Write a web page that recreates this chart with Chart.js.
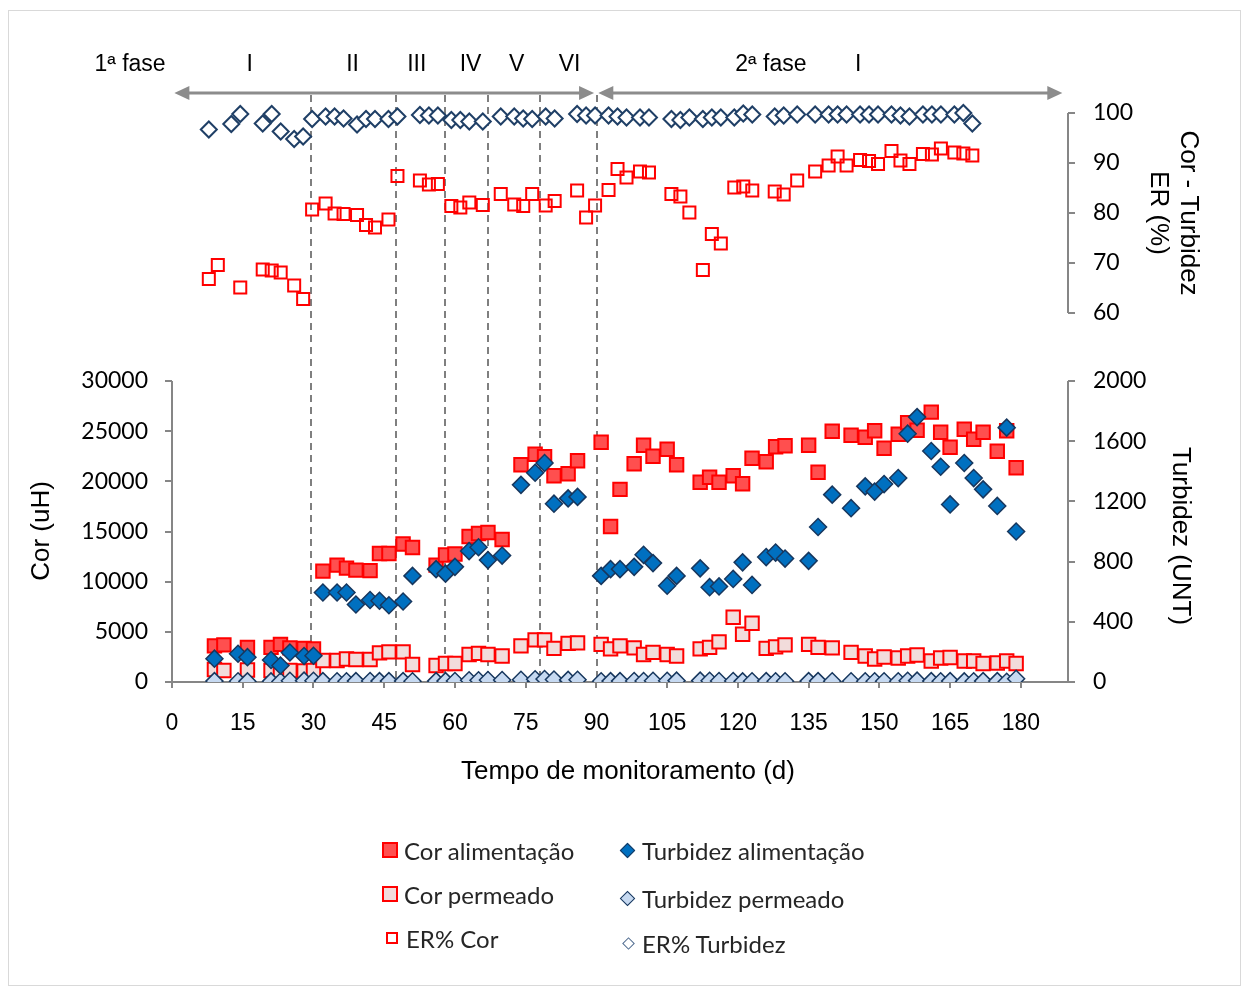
<!DOCTYPE html>
<html lang="pt">
<head>
<meta charset="utf-8">
<title>Cor e turbidez - monitoramento</title>
<script src="https://cdn.jsdelivr.net/npm/chart.js@4.4.1/dist/chart.umd.min.js"></script>
<style>
  html, body { margin: 0; padding: 0; background: #fff; }
  #wrap { position: relative; width: 1243px; height: 989px; }
  #frame { position: absolute; left: 8px; top: 10px; width: 1231px; height: 974px; border: 1px solid #d9d9d9; }
  #grafico { position: absolute; left: 0; top: 0; }
  .leg { position: absolute; display: flex; align-items: center; height: 26px;
         font-family: Lato, "Open Sans", sans-serif; font-size: 24px; color: #262626; white-space: nowrap; }
  .mk { display: inline-block; flex: none; }
</style>
</head>
<body>
<div id="wrap">
  <div id="frame"></div>
  <canvas id="grafico" width="1243" height="989"></canvas>

  <div class="leg" style="left:382px; top:837px;"><span class="mk" style="width:12px;height:12px;border:2px solid #ff0000;background:#ff4f4f;margin-right:6px;"></span>Cor alimentação</div>
  <div class="leg" style="left:382px; top:881px;"><span class="mk" style="width:12px;height:12px;border:2px solid #ff0000;background:#f2dcdb;margin-right:6px;"></span>Cor permeado</div>
  <div class="leg" style="left:386px; top:925px;"><span class="mk" style="width:8px;height:8px;border:2px solid #ff0000;background:#fff;margin-right:8px;"></span>ER% Cor</div>

  <div class="leg" style="left:622px; top:837px;"><span class="mk" style="width:9px;height:9px;border:1.5px solid #17375e;background:#0070c0;transform:rotate(45deg);margin-right:9px;"></span>Turbidez alimentação</div>
  <div class="leg" style="left:622px; top:885px;"><span class="mk" style="width:9px;height:9px;border:1.5px solid #17375e;background:#c6d9f1;transform:rotate(45deg);margin-right:9px;"></span>Turbidez permeado</div>
  <div class="leg" style="left:624px; top:930px;"><span class="mk" style="width:7px;height:7px;border:1.5px solid #4f6b8f;background:#fff;transform:rotate(45deg);margin-right:9px;"></span>ER% Turbidez</div>
</div>

<script>
// Dias de amostragem (a série de cor tem o dia 11, a de turbidez o dia 14)
const diasCor = [9, 11, 16, 21, 23, 25, 28, 30,
  32, 35, 37, 39, 42, 44, 46, 49, 51, 56, 58, 60, 63, 65, 67, 70, 74, 77, 79, 81, 84, 86,
  91, 93, 95, 98, 100, 102, 105, 107, 112, 114, 116, 119, 121, 123, 126, 128, 130,
  135, 137, 140, 144, 147, 149, 151, 154, 156, 158, 161, 163, 165, 168, 170, 172, 175, 177, 179];
const diasTurb = [9, 14, 16, 21, 23, 25, 28, 30,
  32, 35, 37, 39, 42, 44, 46, 49, 51, 56, 58, 60, 63, 65, 67, 70, 74, 77, 79, 81, 84, 86,
  91, 93, 95, 98, 100, 102, 105, 107, 112, 114, 116, 119, 121, 123, 126, 128, 130,
  135, 137, 140, 144, 147, 149, 151, 154, 156, 158, 161, 163, 165, 168, 170, 172, 175, 177, 179];

// Cor (uH)
const corAlimentacao = [3600, 3700, 3450, 3450, 3750, 3400, 3350, 3300,
  11050, 11650, 11350, 11150, 11100, 12800, 12800, 13750, 13400, 11650, 12650, 12750, 14500, 14800, 14900, 14200,
  21650, 22700, 22450, 20550, 20750, 22050,
  23900, 15500, 19200, 21750, 23600, 22500, 23200, 21650, 19900, 20400, 19900, 20550, 19750, 22300, 21950, 23450, 23550,
  23600, 20900, 25000, 24600, 24400, 25050, 23300, 24700, 25850, 25100, 26900, 24900, 23400, 25200, 24200, 24900, 23000, 25050, 21350];
const corPermeado = [1250, 1150, 1200, 1150, 1100, 1150, 1100, 1150,
  2150, 2150, 2300, 2250, 2250, 2900, 3000, 3000, 1750, 1650, 1850, 1850, 2750, 2850, 2750, 2600,
  3600, 4200, 4200, 3350, 3850, 3900,
  3750, 3300, 3600, 3400, 2750, 2950, 2750, 2600, 3300, 3450, 4000, 6450, 4750, 5850, 3350, 3500, 3700,
  3750, 3450, 3400, 2950, 2600, 2300, 2500, 2400, 2600, 2700, 2100, 2400, 2450, 2100, 2100, 1850, 1900, 2100, 1850];

// Turbidez (UNT)
const turbAlimentacao = [155, 188, 165, 146, 110, 196, 173, 174,
  595, 595, 595, 515, 545, 540, 510, 535, 705, 750, 720, 765, 870, 895, 810, 840,
  1310, 1390, 1455, 1185, 1220, 1230,
  705, 750, 750, 765, 845, 790, 640, 705, 755, 630, 635, 685, 795, 645, 830, 860, 820,
  805, 1030, 1245, 1155, 1300, 1265, 1315, 1355, 1650, 1760, 1535, 1430, 1180, 1455, 1355, 1280, 1170, 1690, 1000];
const turbPermeado = [6, 5, 4, 4, 3, 8, 9, 8,
  6, 5, 5, 6, 7, 6, 6, 6, 5, 6, 6, 7, 12, 12, 13, 13,
  15, 18, 20, 16, 14, 15,
  5, 6, 6, 7, 7, 8, 8, 9, 9, 8, 7, 7, 4, 5, 6, 5, 5,
  6, 6, 5, 5, 5, 5, 5, 5, 8, 9, 6, 5, 6, 4, 5, 6, 6, 2, 22];

// Eficiência de remoção (%)
const erCor = [66.8, 69.6, 65.1, 68.7, 68.5, 68.1, 65.5, 62.8,
  80.7, 81.9, 79.9, 79.8, 79.6, 77.6, 77.1, 78.7, 87.4, 86.5, 85.7, 85.8, 81.4, 81.1, 82.1, 81.6,
  83.8, 81.7, 81.4, 83.8, 81.5, 82.4,
  84.5, 79.1, 81.5, 84.6, 88.8, 87.1, 88.3, 88.1, 83.8, 83.3, 80.1, 68.6, 75.8, 73.9, 85.1, 85.3, 84.5,
  84.3, 83.7, 86.5, 88.3, 89.5, 91.3, 89.5, 90.6, 90.4, 89.8, 92.4, 90.5, 89.8, 91.8, 91.7, 92.9, 92.1, 91.9, 91.5];
const erTurb = [96.7, 97.8, 99.8, 97.9, 99.8, 96.3, 94.8, 95.3,
  98.8, 99.3, 99.3, 98.9, 97.7, 98.8, 98.8, 98.8, 99.3, 99.6, 99.5, 99.5, 98.6, 98.6, 98.3, 98.3,
  99.3, 99.3, 98.9, 98.8, 99.3, 98.9,
  99.8, 99.5, 99.5, 99.5, 99.3, 99.1, 99.1, 99.1, 98.8, 98.6, 99.1, 98.8, 99.1, 99.1, 99.1, 99.9, 99.7,
  99.3, 99.5, 99.7, 99.7, 99.7, 99.7, 99.7, 99.7, 99.7, 99.7, 99.7, 99.5, 99.3, 99.7, 99.7, 99.7, 99.7, 100, 97.9];

// Ticks
const tempoTicks = [0, 15, 30, 45, 60, 75, 90, 105, 120, 135, 150, 165, 180];
const corTicks = [0, 5000, 10000, 15000, 20000, 25000, 30000];
const turbTicks = [0, 400, 800, 1200, 1600, 2000];
const erTicks = [60, 70, 80, 90, 100];

// Etapas
const limitesEtapas = [29.5, 47.4, 57.8, 67.1, 78.1, 90.2];
const rotulosEtapas = ['1ª fase', 'I', 'II', 'III', 'IV', 'V', 'VI', '2ª fase', 'I'];
const diaRotulos = [-8.9, 16.5, 38.3, 51.9, 63.3, 73.1, 84.3, 127, 145.5];
const setasFases = [[0.5, 89.5], [90.4, 188.8]];

// layout: os dois painéis compartilham a área do gráfico
const areaTopo = 95, areaBase = 682;
const topoInferior = 381;               // pixel do 30000 / 2000
const erPx100 = 113, erPx60 = 313;      // pixels do 100% e 60%
const corMax = 30000 * (areaBase - areaTopo) / (areaBase - topoInferior);
const turbMax = 2000 * (areaBase - areaTopo) / (areaBase - topoInferior);
const pxPorPonto = (erPx60 - erPx100) / 40;
const erMin = 60 - (areaBase - erPx60) / pxPorPonto;
const erMax = 100 + (erPx100 - areaTopo) / pxPorPonto;

const pares = (xs, ys) => xs.map((d, i) => ({ x: d, y: ys[i] }));
const cinza = '#868686';
const fonteTick = { family: 'Lato', size: 23 };
const fonteTitulo = '26px "Liberation Sans", Arial, sans-serif';

function seta(ctx, x1, x2, y) {
  const c = 15, h = 7;
  ctx.beginPath(); ctx.moveTo(x1 + c - 2, y); ctx.lineTo(x2 - c + 2, y); ctx.stroke();
  ctx.beginPath(); ctx.moveTo(x1, y); ctx.lineTo(x1 + c, y - h); ctx.lineTo(x1 + c, y + h); ctx.closePath(); ctx.fill();
  ctx.beginPath(); ctx.moveTo(x2, y); ctx.lineTo(x2 - c, y - h); ctx.lineTo(x2 - c, y + h); ctx.closePath(); ctx.fill();
}

function textoRodado(ctx, txt, x, y, ang) {
  ctx.save();
  ctx.translate(x, y);
  ctx.rotate(ang);
  ctx.textAlign = 'center';
  ctx.textBaseline = 'middle';
  ctx.fillText(txt, 0, 0);
  ctx.restore();
}

const decoracao = {
  id: 'decoracao',
  beforeDatasetsDraw(chart) {
    const { ctx, chartArea, scales } = chart;
    ctx.save();
    // limites das etapas
    ctx.strokeStyle = '#7f7f7f';
    ctx.lineWidth = 2;
    ctx.setLineDash([7, 5]);
    limitesEtapas.forEach(d => {
      const px = Math.round(scales.x.getPixelForValue(d));
      ctx.beginPath(); ctx.moveTo(px, chartArea.top); ctx.lineTo(px, chartArea.bottom); ctx.stroke();
    });
    ctx.setLineDash([]);
    // linhas dos eixos (só no trecho com escala)
    ctx.strokeStyle = cinza;
    const linha = (x, y1, y2) => { ctx.beginPath(); ctx.moveTo(x, y1); ctx.lineTo(x, y2); ctx.stroke(); };
    linha(chartArea.left, scales.yCor.getPixelForValue(0), scales.yCor.getPixelForValue(30000));
    linha(chartArea.right, scales.yTurb.getPixelForValue(0), scales.yTurb.getPixelForValue(2000));
    linha(chartArea.right, scales.yER.getPixelForValue(60), scales.yER.getPixelForValue(100));
    ctx.restore();
  },
  afterDraw(chart) {
    const { ctx, chartArea, scales } = chart;
    ctx.save();
    // setas das fases
    ctx.strokeStyle = '#8c8c8c';
    ctx.fillStyle = '#8c8c8c';
    ctx.lineWidth = 3;
    setasFases.forEach(([a, b]) => seta(ctx, scales.x.getPixelForValue(a), scales.x.getPixelForValue(b), 93));
    // rótulos das fases / etapas
    ctx.fillStyle = '#000';
    ctx.font = '23px "Liberation Sans", Arial, sans-serif';
    ctx.textAlign = 'center';
    ctx.textBaseline = 'middle';
    rotulosEtapas.forEach((t, i) => ctx.fillText(t, scales.x.getPixelForValue(diaRotulos[i]), 65));
    // rótulos do eixo ER (o eixo não tem largura própria)
    ctx.font = '23px Lato';
    ctx.textAlign = 'left';
    erTicks.forEach(v => ctx.fillText(String(v), chartArea.right + 25, scales.yER.getPixelForValue(v)));
    // títulos dos eixos verticais
    ctx.font = fonteTitulo;
    textoRodado(ctx, 'Cor (uH)', 42, 531, -Math.PI / 2);
    textoRodado(ctx, 'Turbidez (UNT)', 1180, 536, Math.PI / 2);
    textoRodado(ctx, 'Cor - Turbidez', 1188, 213, Math.PI / 2);
    textoRodado(ctx, 'ER (%)', 1158, 213, Math.PI / 2);
    textoRodado(ctx, 'Tempo de monitoramento (d)', 628, 772, 0);
    ctx.restore();
  }
};

const eixoY = (ticksLista, extra) => Object.assign({
  type: 'linear',
  afterBuildTicks: s => { s.ticks = ticksLista.map(v => ({ value: v })); },
  ticks: { font: fonteTick, color: '#000', padding: 18, callback: v => String(v) },
  grid: { drawOnChartArea: false, drawTicks: true, tickLength: 7, color: cinza, lineWidth: 2 },
  border: { display: false }
}, extra);

new Chart(document.getElementById('grafico'), {
  type: 'scatter',
  data: {
    datasets: [
      { label: 'Turbidez alimentação', data: pares(diasTurb, turbAlimentacao), yAxisID: 'yTurb', xAxisID: 'x',
        pointStyle: 'rectRot', pointRadius: 8.5, backgroundColor: '#0070c0', borderColor: '#17375e', borderWidth: 1.5 },
      { label: 'Turbidez permeado', data: pares(diasTurb, turbPermeado), yAxisID: 'yTurb', xAxisID: 'x',
        pointStyle: 'rectRot', pointRadius: 8.5, backgroundColor: '#c6d9f1', borderColor: '#17375e', borderWidth: 1.5 },
      { label: 'Cor alimentação', data: pares(diasCor, corAlimentacao), yAxisID: 'yCor', xAxisID: 'x',
        pointStyle: 'rect', pointRadius: 9.5, backgroundColor: '#ff4f4f', borderColor: '#ff0000', borderWidth: 2 },
      { label: 'Cor permeado', data: pares(diasCor, corPermeado), yAxisID: 'yCor', xAxisID: 'x',
        pointStyle: 'rect', pointRadius: 9.5, backgroundColor: '#f2dcdb', borderColor: '#ff0000', borderWidth: 2 },
      { label: 'ER% Turbidez', data: pares(diasTurb, erTurb), yAxisID: 'yER', xAxisID: 'x2',
        pointStyle: 'rectRot', pointRadius: 8, backgroundColor: '#ffffff', borderColor: '#1f3f66', borderWidth: 2 },
      { label: 'ER% Cor', data: pares(diasCor, erCor), yAxisID: 'yER', xAxisID: 'x2',
        pointStyle: 'rect', pointRadius: 8.5, backgroundColor: 'rgba(255,255,255,0)', borderColor: '#ff0000', borderWidth: 2 }
    ]
  },
  options: {
    responsive: false,
    animation: false,
    events: [],
    layout: { padding: { top: areaTopo, left: 0, right: 75, bottom: 187 } },
    plugins: { legend: { display: false }, tooltip: { enabled: false } },
    scales: {
      x: {
        type: 'linear', position: 'bottom', min: 0, max: 190,
        afterBuildTicks: s => { s.ticks = tempoTicks.map(v => ({ value: v })); },
        afterFit: s => { s.height = 120; },
        ticks: { font: { family: 'Liberation Sans', size: 23 }, color: '#000', padding: 22, maxRotation: 0, autoSkip: false },
        grid: { drawOnChartArea: false, drawTicks: true, tickLength: 6, color: cinza, lineWidth: 2 },
        border: { display: true, color: cinza, width: 2 },
        title: { display: false }
      },
      // painel superior veio de outro gráfico, com eixo de tempo até ~200 d
      x2: { type: 'linear', position: 'top', display: false, min: 0.8, max: 200.3 },
      yCor: eixoY(corTicks, { position: 'left', min: 0, max: corMax,
        afterFit: s => { s.width = 172; }, ticks: { font: fonteTick, color: '#000', padding: 17, callback: v => String(v) } }),
      yER: eixoY(erTicks, { position: 'right', weight: 0, min: erMin, max: erMax,
        afterFit: s => { s.width = 0; } }),
      yTurb: eixoY(turbTicks, { position: 'right', weight: 1, min: 0, max: turbMax,
        afterFit: s => { s.width = 100; } })
    }
  },
  plugins: [decoracao]
});
</script>
</body>
</html>
